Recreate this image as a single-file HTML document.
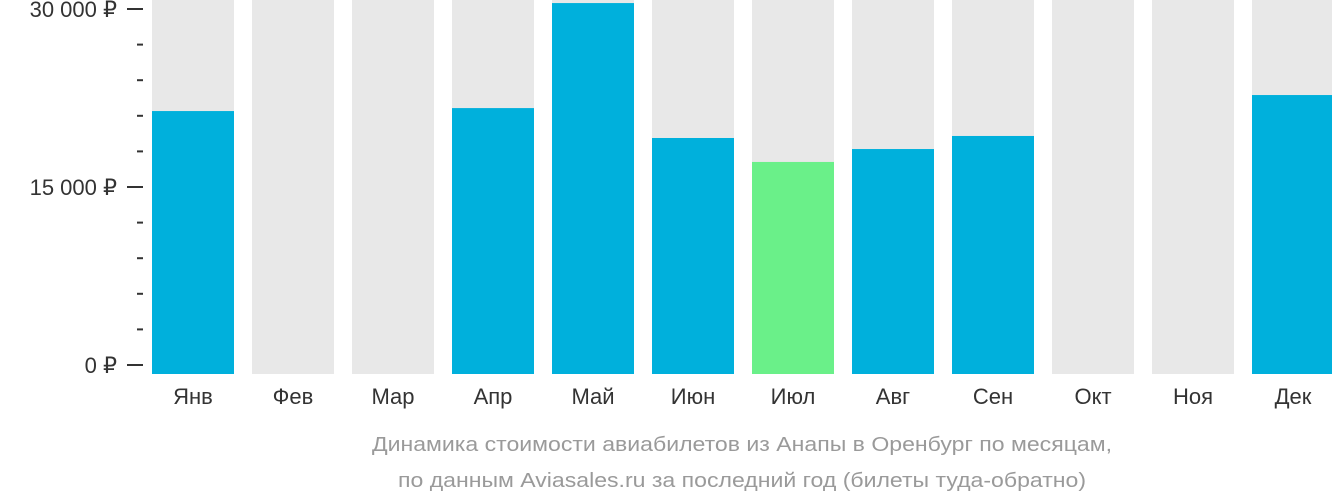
<!DOCTYPE html>
<html><head><meta charset="utf-8"><style>
body{margin:0;background:#fff;width:1332px;height:502px;overflow:hidden}
svg{display:block;font-family:"Liberation Sans","DejaVu Sans",sans-serif}
</style></head><body>
<svg id="chart" width="1332" height="502" viewBox="0 0 1332 502">
<g id="bg"></g><g id="bars"></g><g id="yaxis"></g><g id="xlabels"></g>
<text x="742" y="451" text-anchor="middle" font-size="20" fill="#9a9a9a" textLength="740" lengthAdjust="spacingAndGlyphs">Динамика стоимости авиабилетов из Анапы в Оренбург по месяцам,</text>
<text x="742" y="487" text-anchor="middle" font-size="20" fill="#9a9a9a" textLength="688" lengthAdjust="spacingAndGlyphs">по данным Aviasales.ru за последний год (билеты туда-обратно)</text>
</svg>
<script>
const months = ["Янв","Фев","Мар","Апр","Май","Июн","Июл","Авг","Сен","Окт","Ноя","Дек"];
const prices = [21400, null, null, 21650, 30500, 19130, 17110, 18200, 19300, null, null, 22750];
const highlight = [false,false,false,false,false,false,true,false,false,false,false,false];
const yTickValues = [0, 15000, 30000];
const yTickLabels = ["0 ₽", "15 000 ₽", "30 000 ₽"];
const minorStep = 3000;

const NS = "http://www.w3.org/2000/svg";
const y = v => 365 - v / 30000 * 356;
const xLeft = i => 152 + i * 100;
const barW = 82, bottom = 374;
function mk(tag, attrs, parent){const e=document.createElementNS(NS,tag);for(const k in attrs)e.setAttribute(k,attrs[k]);parent.appendChild(e);return e;}
const bg=document.getElementById('bg'), bars=document.getElementById('bars'), ya=document.getElementById('yaxis'), xl=document.getElementById('xlabels');
months.forEach((m,i)=>{
  const r=mk('rect',{x:xLeft(i),y:0,width:barW,height:bottom,fill:'#e8e8e8'},bg);
  
  
  if(prices[i]!=null){
    const b=mk('rect',{x:xLeft(i),y:y(prices[i]),width:barW,height:bottom-y(prices[i]),fill:highlight[i]?'#6af089':'#00b0dc'},bars);
    
    
  }
  const t=mk('text',{x:xLeft(i)+barW/2,y:404,'text-anchor':'middle','font-size':22,fill:'#333'},xl);
  t.textContent=m;
  
  
});
for(let v=0; v<=30000; v+=minorStep){
  const major = yTickValues.includes(v);
  const l=mk('line',{x1:major?127:137,x2:143,y1:y(v),y2:y(v),stroke:'#333','stroke-width':2},ya);
  
  
}
yTickValues.forEach((v,i)=>{
  const t=mk('text',{x:117,y:y(v)+8,'text-anchor':'end','font-size':22,fill:'#333'},ya);
  t.textContent=yTickLabels[i];
  
  
});
</script>
</body></html>
